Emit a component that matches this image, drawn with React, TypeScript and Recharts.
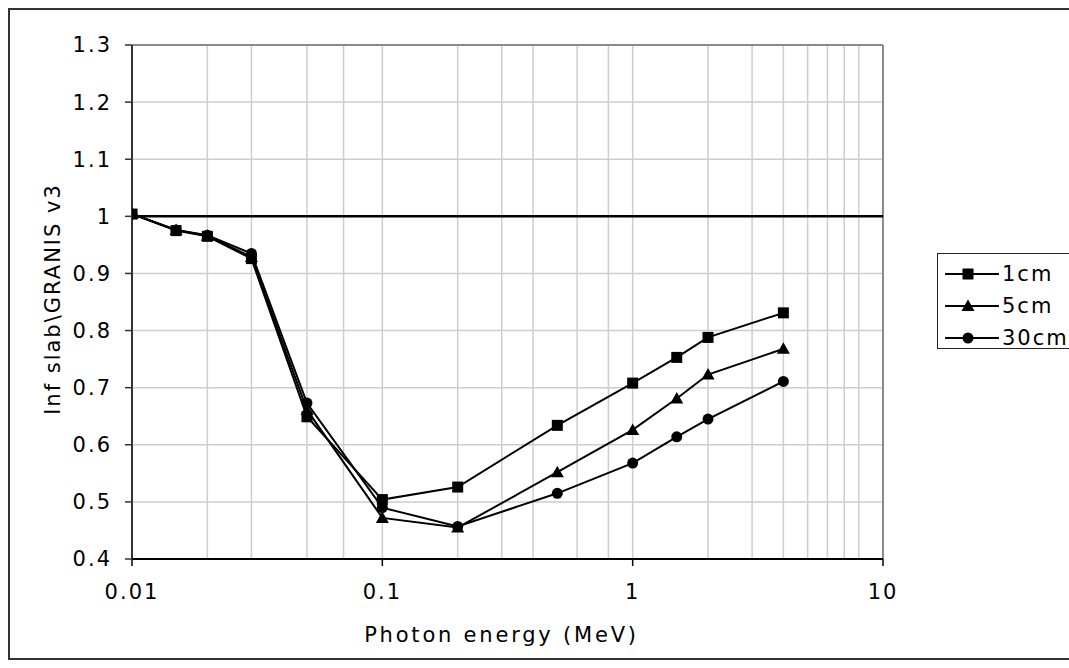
import React from 'react'
import { LineChart, Line, XAxis, YAxis, CartesianGrid, ReferenceLine } from 'recharts'

// photon energies (MeV) and the ratio for each slab depth
const energies = [0.01, 0.015, 0.02, 0.03, 0.05, 0.1, 0.2, 0.5, 1, 1.5, 2, 4]
const depth1cm = [1.004, 0.975, 0.965, 0.926, 0.649, 0.504, 0.526, 0.634, 0.708, 0.753, 0.788, 0.831]
const depth5cm = [1.004, 0.976, 0.966, 0.929, 0.661, 0.472, 0.455, 0.552, 0.626, 0.681, 0.723, 0.768]
const depth30cm = [1.004, 0.976, 0.967, 0.935, 0.673, 0.49, 0.457, 0.515, 0.568, 0.614, 0.645, 0.711]

const decadeTicks = [0.01, 0.1, 1, 10]
const gridEnergies = [
  0.01, 0.02, 0.03, 0.04, 0.05, 0.06, 0.07, 0.08, 0.09,
  0.1, 0.2, 0.3, 0.4, 0.5, 0.6, 0.7, 0.8, 0.9,
  1, 2, 3, 4, 5, 6, 7, 8, 9, 10,
]
const ratioTicks = [0.4, 0.5, 0.6, 0.7, 0.8, 0.9, 1, 1.1, 1.2, 1.3]

const rows = energies.map((e, i) => ({ e, cm1: depth1cm[i], cm5: depth5cm[i], cm30: depth30cm[i] }))

const FONT = '"DejaVu Sans", Verdana, sans-serif'
const textStyle = { fontFamily: FONT, fontSize: 21, letterSpacing: 2, fill: '#000' }

const square = (cx: number, cy: number) => <rect x={cx - 5.5} y={cy - 5.5} width={11} height={11} fill="#000" />
const triangle = (cx: number, cy: number) => (
  <path d={`M${cx},${cy - 6.5} L${cx + 6.5},${cy + 5} L${cx - 6.5},${cy + 5} Z`} fill="#000" />
)
const circle = (cx: number, cy: number) => <circle cx={cx} cy={cy} r={5.5} fill="#000" />

const dotOf = (shape: (cx: number, cy: number) => React.ReactElement) => (p: any) =>
  p.cx == null || p.cy == null ? <g key={p.key} /> : <g key={p.key}>{shape(p.cx, p.cy)}</g>

const legendItems = [
  { name: '1cm', shape: square },
  { name: '5cm', shape: triangle },
  { name: '30cm', shape: circle },
]

function LegendBox() {
  return (
    <div
      style={{
        position: 'absolute', left: 927, top: 243, width: 150, height: 96, boxSizing: 'border-box',
        border: '1.5px solid #222', background: '#fff', paddingTop: 4,
      }}
    >
      {legendItems.map((it) => (
        <div key={it.name} style={{ display: 'flex', alignItems: 'center', height: 32 }}>
          <svg width={64} height={32}>
            <line x1={7} y1={16} x2={61} y2={16} stroke="#000" strokeWidth={2} />
            {it.shape(30, 16)}
          </svg>
          <span style={{ fontFamily: FONT, fontSize: 21, letterSpacing: 2, color: '#000' }}>{it.name}</span>
        </div>
      ))}
    </div>
  )
}

export default function App() {
  return (
    <div
      style={{
        position: 'fixed', left: 8, top: 8, width: 1061, height: 652, boxSizing: 'border-box', overflow: 'hidden',
        borderLeft: '2px solid #333', borderTop: '2px solid #333', borderBottom: '2px solid #333',
        background: '#fff',
      }}
    >
      <div style={{ position: 'absolute', left: -2, top: -2 }}>
        <LineChart width={1060} height={652} data={rows} margin={{ top: 37, right: 185, bottom: 41, left: 0 }}>
          <CartesianGrid stroke="#cdcdcd" strokeWidth={1.5} verticalValues={gridEnergies} horizontalValues={ratioTicks} />
          <XAxis
            dataKey="e"
            type="number"
            scale="log"
            domain={[0.01, 10]}
            ticks={decadeTicks}
            allowDataOverflow
            height={60}
            tickFormatter={(v) => String(v)}
            tick={textStyle}
            tickSize={7}
            tickMargin={18}
            axisLine={{ stroke: '#000', strokeWidth: 2 }}
            tickLine={{ stroke: '#000', strokeWidth: 1.5 }}
            label={(props: any) => {
              const vb = props.viewBox
              return (
                <text x={vb.x + vb.width / 2 - 6} y={vb.y + 83} textAnchor="middle" style={{ ...textStyle, letterSpacing: 2.8 }}>
                  Photon energy (MeV)
                </text>
              )
            }}
          />
          <YAxis
            type="number"
            domain={[0.4, 1.3]}
            ticks={ratioTicks}
            width={124}
            tickFormatter={(v) => String(+Number(v).toFixed(1))}
            tick={textStyle}
            tickSize={7}
            tickMargin={13}
            axisLine={{ stroke: '#333', strokeWidth: 2 }}
            tickLine={{ stroke: '#333', strokeWidth: 1.5 }}
            label={(props: any) => {
              const vb = props.viewBox
              const cy = vb.y + vb.height / 2 - 3
              return (
                <text x={52} y={cy} transform={`rotate(-90, 52, ${cy})`} textAnchor="middle" style={textStyle}>
                  Inf slab\GRANIS v3
                </text>
              )
            }}
          />
          <ReferenceLine y={1.3} stroke="#8a8a8a" strokeWidth={2} />
          <ReferenceLine x={10} stroke="#8a8a8a" strokeWidth={2} />
          <ReferenceLine y={1} stroke="#000" strokeWidth={2.5} />
          <Line dataKey="cm30" name="30cm" stroke="#000" strokeWidth={2} dot={dotOf(circle)} isAnimationActive={false} />
          <Line dataKey="cm5" name="5cm" stroke="#000" strokeWidth={2} dot={dotOf(triangle)} isAnimationActive={false} />
          <Line dataKey="cm1" name="1cm" stroke="#000" strokeWidth={2} dot={dotOf(square)} isAnimationActive={false} />
        </LineChart>
      </div>
      <LegendBox />
    </div>
  )
}
